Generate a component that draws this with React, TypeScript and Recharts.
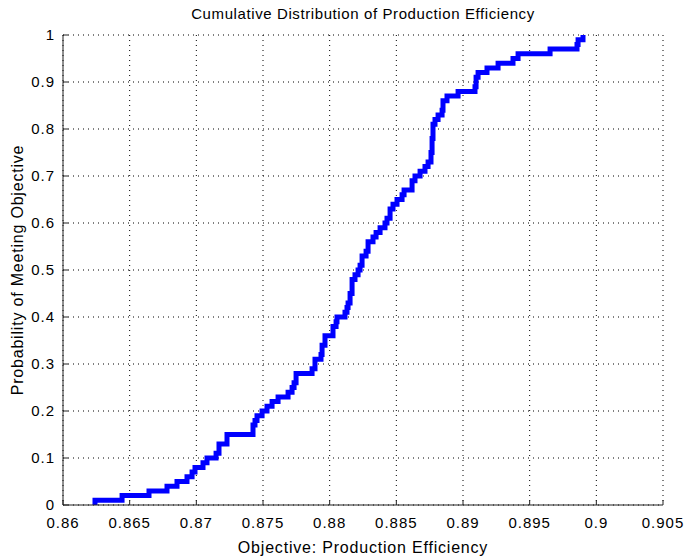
import React from "react";
import { LineChart, Line, XAxis, YAxis, CartesianGrid, Label } from "recharts";

const efficiency = [
  0.8624, 0.8624, 0.86443, 0.86645, 0.8678, 0.86855, 0.8693, 0.86968, 0.8699, 0.8705,
  0.8708, 0.87148, 0.8717, 0.8723, 0.87425, 0.8744, 0.87455, 0.87493, 0.8753, 0.87568,
  0.87613, 0.87688, 0.87718, 0.87733, 0.87748, 0.87868, 0.8789, 0.87935, 0.87943, 0.87965,
  0.88025, 0.88048, 0.88055, 0.88115, 0.8813, 0.88138, 0.88153, 0.88168, 0.8819, 0.88213,
  0.88228, 0.88243, 0.88273, 0.88288, 0.88325, 0.88348, 0.88378, 0.88415, 0.8843, 0.88453,
  0.88475, 0.88505, 0.88543, 0.88558, 0.88618, 0.8864, 0.88678, 0.88715, 0.88738, 0.8876,
  0.88768, 0.88775, 0.8879, 0.88813, 0.88843, 0.8885, 0.8888, 0.88963, 0.8909, 0.89098,
  0.89113, 0.8918, 0.89263, 0.89375, 0.89413, 0.89653, 0.89855, 0.89863, 0.899,
];
const probability = [
  0, 0.01, 0.02, 0.03, 0.04, 0.05, 0.06, 0.07, 0.08, 0.09,
  0.1, 0.11, 0.13, 0.15, 0.17, 0.18, 0.19, 0.2, 0.21, 0.22,
  0.23, 0.24, 0.25, 0.26, 0.28, 0.29, 0.31, 0.32, 0.34, 0.36,
  0.38, 0.39, 0.4, 0.41, 0.42, 0.43, 0.45, 0.48, 0.49, 0.5,
  0.51, 0.53, 0.54, 0.56, 0.57, 0.58, 0.59, 0.6, 0.61, 0.63,
  0.64, 0.65, 0.66, 0.67, 0.69, 0.7, 0.71, 0.72, 0.73, 0.75,
  0.78, 0.81, 0.82, 0.83, 0.84, 0.86, 0.87, 0.88, 0.89, 0.91,
  0.92, 0.93, 0.94, 0.95, 0.96, 0.97, 0.98, 0.99, 1.0,
];
const xTicks = [0.86, 0.865, 0.87, 0.875, 0.88, 0.885, 0.89, 0.895, 0.9, 0.905];
const yTicks = [0, 0.1, 0.2, 0.3, 0.4, 0.5, 0.6, 0.7, 0.8, 0.9, 1];

const title = "Cumulative Distribution of Production Efficiency";
const xLabel = "Objective: Production Efficiency";
const yLabel = "Probability of Meeting Objective";

const data = efficiency.map((x, i) => ({ x, p: probability[i] }));

const FONT = "'Liberation Sans', Arial, Helvetica, sans-serif";
const tickStyle = { fontSize: 15, fill: "#000", fontFamily: FONT, letterSpacing: 1 };
const labelStyle = { fontSize: 16, fill: "#000", fontFamily: FONT, letterSpacing: 0.8 };
const axisColor = "#222";

export default function App() {
  return (
    <div style={{ position: "absolute", left: 0, top: 0, width: 686, height: 556, background: "#fff" }}>
      <div
        style={{
          position: "absolute",
          left: 63,
          width: 600,
          top: 5,
          textAlign: "center",
          fontFamily: FONT,
          fontSize: 15,
          color: "#000",
          letterSpacing: 0.6,
        }}
      >
        {title}
      </div>
      <LineChart width={686} height={556} data={data} margin={{ top: 35, right: 23, left: 0, bottom: 0 }}>
        <CartesianGrid
          xAxisId="b"
          yAxisId="l"
          stroke="#000"
          strokeDasharray="1 4"
          strokeWidth={1}
        />
        <XAxis
          xAxisId="b"
          dataKey="x"
          type="number"
          domain={[0.86, 0.905]}
          ticks={xTicks}
          allowDataOverflow
          height={51}
          tickSize={-5}
          tickMargin={17}
          tick={tickStyle}
          stroke={axisColor}
          tickLine={{ stroke: axisColor }}
          axisLine={{ stroke: axisColor }}
          interval={0}
        >
          <Label value={xLabel} position="insideBottom" offset={3} style={labelStyle} />
        </XAxis>
        <XAxis
          xAxisId="t"
          dataKey="x"
          type="number"
          orientation="top"
          domain={[0.86, 0.905]}
          ticks={xTicks}
          allowDataOverflow
          height={0}
          tickSize={-5}
          tick={false}
          stroke={axisColor}
          interval={0}
        />
        <YAxis
          yAxisId="l"
          type="number"
          domain={[0, 1]}
          ticks={yTicks}
          width={63}
          tickSize={-5}
          tickMargin={13}
          tick={tickStyle}
          stroke={axisColor}
          interval={0}
        >
          <Label
            content={(props: any) => {
              const vb = props.viewBox;
              const cx = vb.x + 17;
              const cy = vb.y + vb.height / 2;
              return (
                <text
                  x={cx}
                  y={cy}
                  transform={`rotate(-90 ${cx} ${cy})`}
                  textAnchor="middle"
                  dominantBaseline="central"
                  style={labelStyle}
                >
                  {yLabel}
                </text>
              );
            }}
          />
        </YAxis>
        <YAxis
          yAxisId="r"
          type="number"
          orientation="right"
          domain={[0, 1]}
          ticks={yTicks}
          width={0}
          tickSize={-5}
          tick={false}
          stroke={axisColor}
          interval={0}
        />
        <Line
          xAxisId="b"
          yAxisId="l"
          type="stepAfter"
          dataKey="p"
          stroke="#0000ff"
          strokeWidth={5}
          dot={false}
          isAnimationActive={false}
        />
      </LineChart>
    </div>
  );
}
